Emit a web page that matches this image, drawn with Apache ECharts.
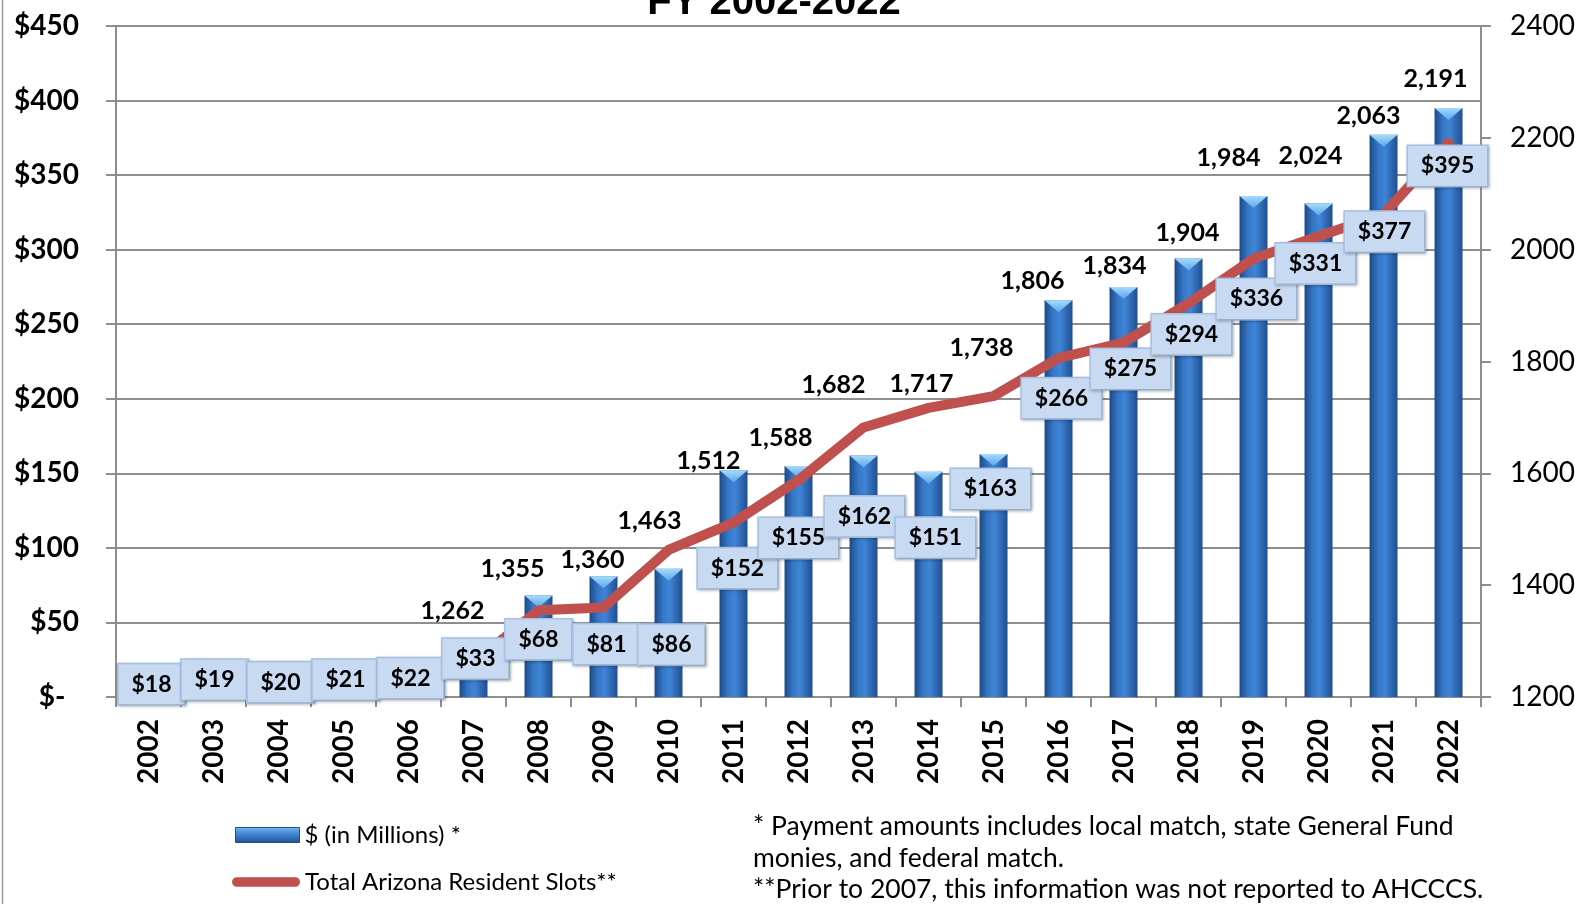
<!DOCTYPE html>
<html>
<head>
<meta charset="utf-8">
<script src="https://cdn.jsdelivr.net/npm/echarts@6/dist/echarts.min.js"></script>
<style>
html,body{margin:0;padding:0;background:#fff;}
#chart{width:1578px;height:904px;}
</style>
</head>
<body>
<div id="chart"></div>
<script>
// ---- data ----
const years = ['2002','2003','2004','2005','2006','2007','2008','2009','2010','2011','2012','2013','2014','2015','2016','2017','2018','2019','2020','2021','2022'];
const payments = [18,19,20,21,22,33,68,81,86,152,155,162,151,163,266,275,294,336,331,377,395];
const slots = [null,null,null,null,null,1262,1355,1360,1463,1512,1588,1682,1717,1738,1806,1834,1904,1984,2024,2063,2191];
const leftAxis = {min:0, max:450, interval:50};
const rightAxis = {min:1200, max:2400, interval:200};
const titleText = 'FY 2002-2022';
const barName = '$ (in Millions) *';
const lineName = 'Total Arizona Resident Slots**';
const footnotes = ['* Payment amounts includes local match, state General Fund','monies, and federal match.','**Prior to 2007, this information was not reported to AHCCCS.'];

// ---- label placement (pixel shifts, as hand-placed in the original) ----
const payLabelShift = [[3,14],[1,11],[2,15],[2,14],[2,14],[2,11],[0,44],[3,68],[3,76],[4,98],[0,72],[1,61],[7,66],[-3,35],[3,98],[7,82],[3,76],[3,103],[-3,60],[1,97],[-1,58]];
const slotLabelShift = [null,null,null,null,null,[-21,-51],[-26,-41],[-11,-48],[-19,-29],[-25,-62],[-18,-42],[-30,-43],[-7,-24],[-12,-48],[-26,-77],[-9,-77],[-1,-70],[-25,-101],[-8,-80],[-15,-99],[-13,-64]];

const FONT = 'Lato';
const GRID = '#8e8e8e';
const RED = '#C0504D';

const barGradient = new echarts.graphic.LinearGradient(0,0,1,0,[
  {offset:0,color:'#1d4a86'},{offset:0.3,color:'#3577c6'},{offset:0.55,color:'#3f84d6'},{offset:1,color:'#1f4f90'}]);
const legendGradient = new echarts.graphic.LinearGradient(0,0,0,1,[
  {offset:0,color:'#7dbdf2'},{offset:0.35,color:'#4a8ede'},{offset:1,color:'#1f4f90'}]);
const capGradient = new echarts.graphic.LinearGradient(0,0,0,1,[
  {offset:0,color:'#a6dbfb'},{offset:1,color:'#5aa6ea'}]);

const chart = echarts.init(document.getElementById('chart'), null, {renderer:'canvas'});

const option = {
  animation:false,
  backgroundColor:'#fff',
  grid:{left:116, right:95, top:26, bottom:207, containLabel:false},
  xAxis:{
    type:'category', data:years, boundaryGap:true,
    axisLine:{show:true, lineStyle:{color:GRID, width:2}},
    axisTick:{show:true, length:10, interval:0, lineStyle:{color:GRID, width:2}},
    axisLabel:{rotate:90, margin:22, interval:0, color:'#000', fontFamily:FONT, fontWeight:'bold', fontSize:28}
  },
  yAxis:[{
    type:'value', min:leftAxis.min, max:leftAxis.max, interval:leftAxis.interval,
    axisLine:{show:true, lineStyle:{color:GRID, width:2}},
    axisTick:{show:true, length:10, lineStyle:{color:GRID, width:2}},
    splitLine:{show:true, lineStyle:{color:GRID, width:2}},
    axisLabel:{margin:37, color:'#000', fontFamily:FONT, fontWeight:'bold', fontSize:28,
      formatter:v => v === 0 ? '$-  ' : '$' + v}
  },{
    type:'value', position:'right', min:rightAxis.min, max:rightAxis.max, interval:rightAxis.interval,
    axisLine:{show:true, lineStyle:{color:GRID, width:2}},
    axisTick:{show:true, length:10, lineStyle:{color:GRID, width:2}},
    splitLine:{show:false},
    axisLabel:{margin:29, color:'#000', fontFamily:FONT, fontSize:28, formatter:v => String(v)}
  }],
  legend:[{
    selectedMode:false, left:230, top:818, orient:'vertical',
    itemWidth:64, itemHeight:15, icon:'rect',
    textStyle:{fontFamily:FONT, fontSize:24, color:'#000'},
    data:[{name:barName, itemStyle:{color:legendGradient, borderColor:'#1f4f90', borderWidth:1}}]
  },{
    selectedMode:false, left:227, top:865, orient:'vertical',
    itemWidth:68, itemHeight:10,
    textStyle:{fontFamily:FONT, fontSize:24, color:'#000'},
    data:[{name:lineName, icon:'path://M5,0 L65,0 A5,5 0 0 1 65,10 L5,10 A5,5 0 0 1 5,0 Z', itemStyle:{color:RED}}]
  }],
  series:[{
    name:barName, type:'bar', data:payments, barWidth:28, z:2,
    itemStyle:{color:barGradient}
  },{
    name:'cap', type:'scatter', data:payments, z:3, silent:true,
    symbol:'path://M0,0 L28,0 L14,12 Z', symbolSize:[28,12], symbolOffset:[0,6],
    itemStyle:{color:capGradient, opacity:1}
  },{
    name:lineName, type:'line', yAxisIndex:1, z:4,
    connectNulls:false, showSymbol:true, symbol:'circle', symbolSize:1,
    itemStyle:{color:'rgba(0,0,0,0)'},
    lineStyle:{color:RED, width:10, cap:'round', join:'round'},
    label:{show:true, position:'inside', color:'#000', fontFamily:FONT, fontWeight:'bold', fontSize:25,
      formatter:p => p.value == null ? '' : Number(p.value).toLocaleString('en-US')},
    data:slots.map((v,i) => v == null ? null : {value:v, label:{offset:slotLabelShift[i]}})
  },{
    name:'payLabels', type:'bar', data:payments.map((v,i) => ({value:v, label:{offset:[payLabelShift[i][0], payLabelShift[i][1]-20]}})),
    barWidth:28, barGap:'-100%', z:6, silent:true,
    itemStyle:{color:'rgba(0,0,0,0)'},
    label:{show:true, position:'insideTop', distance:0, color:'#000', fontFamily:FONT, fontWeight:'bold', fontSize:23,
      lineHeight:24, padding:[8,13], backgroundColor:'#c8daf1', borderColor:'#a9c3e6', borderWidth:1.5,
      shadowColor:'rgba(0,0,0,0.25)', shadowBlur:3, shadowOffsetX:1, shadowOffsetY:1,
      formatter:p => '$' + p.value}
  }],
  graphic:[
    {type:'line', shape:{x1:2.5,y1:0,x2:2.5,y2:904}, style:{stroke:'#9a9a9a', lineWidth:1.5}, silent:true},
    {type:'text', x:774, y:3, style:{text:titleText, font:'bold 40px "Liberation Sans", Arial, sans-serif', fill:'#000', align:'center', verticalAlign:'middle'}, silent:true},
    {type:'text', x:753, y:811, style:{text:footnotes.join('\n'), font:'26.5px Lato', lineHeight:31.5, fill:'#000', align:'left', verticalAlign:'top'}, silent:true}
  ]
};
chart.setOption(option);
</script>
</body>
</html>
